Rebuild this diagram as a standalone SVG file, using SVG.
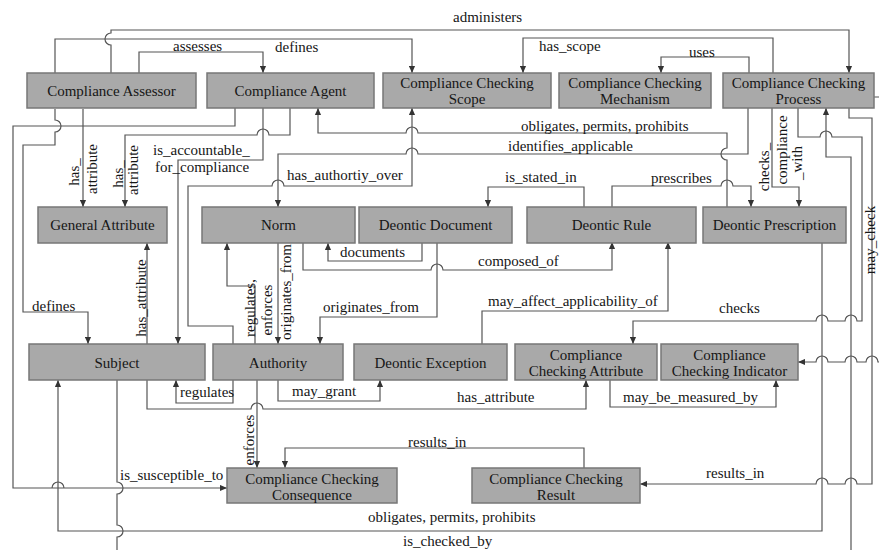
<svg xmlns="http://www.w3.org/2000/svg" width="879" height="550" viewBox="0 0 879 550">
<style>
.n rect{fill:#a9a9a9;stroke:#777;stroke-width:1.5}
.n text,.l{font-family:"Liberation Serif","Times New Roman",serif;font-size:15px;fill:#161616}
.n text{text-anchor:middle}
.c path{fill:none;stroke:#555;stroke-width:1.2}
.r{text-anchor:middle}
</style>
<defs>
<marker id="a" viewBox="0 0 8 8" refX="8" refY="4" markerWidth="7" markerHeight="7" markerUnits="userSpaceOnUse" orient="auto"><path d="M0,0.5 L8,4 L0,7.5 z" fill="#333"/></marker>
</defs>
<rect width="879" height="550" fill="#fff"/>
<g class="c">
<path d="M111 73 V45 a6 6 0 0 1 0 -12 V30 H849 V73" marker-end="url(#a)"/>
<path d="M55 73 V39 H412 V73" marker-end="url(#a)"/>
<path d="M139 73 V52 H263 V73" marker-end="url(#a)"/>
<path d="M773 73 V38 H523 V73" marker-end="url(#a)"/>
<path d="M749 73 V57 H661 V73" marker-end="url(#a)"/>
<path d="M727 207 V160 a6 6 0 0 1 0 -12 V133 H418 a6 6 0 0 0 -12 0 H318 V108" marker-end="url(#a)"/>
<path d="M748 108 V154 H418 a6 6 0 0 0 -12 0 H278 V207" marker-end="url(#a)"/>
<path d="M233 344 V326 H188 V186 H272 a6 6 0 0 1 12 0 H412 V108" marker-end="url(#a)"/>
<path d="M235 108 V126 H13 V488 H64 a6 6 0 0 0 -12 0 H227" marker-end="url(#a)"/>
<path d="M55 109 V120 a6 6 0 0 1 0 12 V145 H23 V312 H88 V344" marker-end="url(#a)"/>
<path d="M83 109 V207" marker-end="url(#a)"/>
<path d="M290 108 V135 H269 a6 6 0 0 0 -12 0 H125 V207" marker-end="url(#a)"/>
<path d="M263 108 V160 H178 V344" marker-end="url(#a)"/>
<path d="M147 344 V243" marker-end="url(#a)"/>
<path d="M255 344 V286 H227 V243" marker-end="url(#a)"/>
<path d="M278 243 V344" marker-end="url(#a)"/>
<path d="M422 243 V261 H328 V243" marker-end="url(#a)"/>
<path d="M303 243 V270 H431 a6 6 0 0 1 12 0 H612 V242" marker-end="url(#a)"/>
<path d="M437 243 V317 H320 V344" marker-end="url(#a)"/>
<path d="M584 207 V187 H488 V207" marker-end="url(#a)"/>
<path d="M612 207 V186 H721 a6 6 0 0 1 12 0 H751 V207" marker-end="url(#a)"/>
<path d="M772 108 V187 H799 V207" marker-end="url(#a)"/>
<path d="M798 108 V137 H820 a6 6 0 0 1 12 0 H862 V321 H857 a6 6 0 0 0 -12 0 H828 a6 6 0 0 0 -12 0 H633 V344" marker-end="url(#a)"/>
<path d="M117 380 V482 a6 6 0 0 1 0 12 V525 a6 6 0 0 1 0 12 V553 H851 V157 H826 V108" marker-end="url(#a)"/>
<path d="M822 242 V531 H58 V380" marker-end="url(#a)"/>
<path d="M233 380 V403 H176 V380" marker-end="url(#a)"/>
<path d="M147 380 V409 H251 a6 6 0 0 1 12 0 H586 V380" marker-end="url(#a)"/>
<path d="M278 380 V401 H380 V380" marker-end="url(#a)"/>
<path d="M257 380 V468" marker-end="url(#a)"/>
<path d="M482 344 V311 H668 V242" marker-end="url(#a)"/>
<path d="M610 380 V407 H776 V380" marker-end="url(#a)"/>
<path d="M584 468 V448 H285 V468" marker-end="url(#a)"/>
<path d="M849 108 V118 H872 V484 H857 a6 6 0 0 0 -12 0 H828 a6 6 0 0 0 -12 0 H640" marker-end="url(#a)"/>
<path d="M874 97 H882 M882 362 H878 a6 6 0 0 0 -12 0 H857 a6 6 0 0 0 -12 0 H828 a6 6 0 0 0 -12 0 H798" marker-end="url(#a)"/>
</g>
<g id="n-assessor" class="n"><rect x="27" y="73" width="169" height="35"/><text x="111.5" y="96">Compliance Assessor</text></g>
<g id="n-agent" class="n"><rect x="207" y="73" width="167" height="35"/><text x="290.5" y="96">Compliance Agent</text></g>
<g id="n-scope" class="n"><rect x="383" y="73" width="168" height="35"/><text x="467" y="88">Compliance Checking</text><text x="467" y="104">Scope</text></g>
<g id="n-mechanism" class="n"><rect x="559" y="73" width="152" height="35"/><text x="635" y="88">Compliance Checking</text><text x="635" y="104">Mechanism</text></g>
<g id="n-process" class="n"><rect x="723" y="73" width="151" height="35"/><text x="798.5" y="88">Compliance Checking</text><text x="798.5" y="104">Process</text></g>
<g id="n-general" class="n"><rect x="38" y="207" width="129" height="36"/><text x="102.5" y="230">General Attribute</text></g>
<g id="n-norm" class="n"><rect x="202" y="207" width="153" height="36"/><text x="278.5" y="230">Norm</text></g>
<g id="n-document" class="n"><rect x="359" y="207" width="153" height="36"/><text x="435.5" y="230">Deontic Document</text></g>
<g id="n-rule" class="n"><rect x="527" y="207" width="169" height="36"/><text x="611.5" y="230">Deontic Rule</text></g>
<g id="n-prescription" class="n"><rect x="703" y="207" width="143" height="36"/><text x="774.5" y="230">Deontic Prescription</text></g>
<g id="n-subject" class="n"><rect x="29" y="344" width="176" height="36"/><text x="117" y="368">Subject</text></g>
<g id="n-authority" class="n"><rect x="213" y="344" width="130" height="36"/><text x="278" y="368">Authority</text></g>
<g id="n-exception" class="n"><rect x="354" y="344" width="153" height="36"/><text x="430.5" y="368">Deontic Exception</text></g>
<g id="n-ccattr" class="n"><rect x="515" y="344" width="142" height="36"/><text x="586" y="360">Compliance</text><text x="586" y="376">Checking Attribute</text></g>
<g id="n-indicator" class="n"><rect x="661" y="344" width="137" height="36"/><text x="729.5" y="360">Compliance</text><text x="729.5" y="376">Checking Indicator</text></g>
<g id="n-consequence" class="n"><rect x="227" y="468" width="170" height="35"/><text x="312" y="484">Compliance Checking</text><text x="312" y="500">Consequence</text></g>
<g id="n-result" class="n"><rect x="472" y="468" width="168" height="35"/><text x="556" y="484">Compliance Checking</text><text x="556" y="500">Result</text></g>
<g id="labels">
<text class="l" x="453" y="22">administers</text>
<text class="l" x="173" y="51">assesses</text>
<text class="l" x="275" y="52">defines</text>
<text class="l" x="539" y="51">has_scope</text>
<text class="l" x="689" y="57">uses</text>
<text class="l" x="521" y="131">obligates, permits, prohibits</text>
<text class="l" x="508" y="151">identifies_applicable</text>
<text class="l" x="153" y="155">is_accountable_</text>
<text class="l" x="155" y="172">for_compliance</text>
<text class="l" x="287" y="180">has_authortiy_over</text>
<text class="l" x="505" y="182">is_stated_in</text>
<text class="l" x="651" y="183">prescribes</text>
<text class="l r" transform="translate(79,172) rotate(-90)">has_</text>
<text class="l r" transform="translate(97,169) rotate(-90)">attribute</text>
<text class="l r" transform="translate(123,174) rotate(-90)">has_</text>
<text class="l r" transform="translate(138,170) rotate(-90)">attribute</text>
<text class="l r" transform="translate(769,167) rotate(-90)">checks_</text>
<text class="l r" transform="translate(787,150) rotate(-90)">compliance</text>
<text class="l r" transform="translate(802,163) rotate(-90)">_with</text>
<text class="l r" transform="translate(146,298) rotate(-90)">has_attribute</text>
<text class="l r" transform="translate(255,308) rotate(-90)">regulates,</text>
<text class="l r" transform="translate(272,310) rotate(-90)">enforces</text>
<text class="l r" transform="translate(291,292) rotate(-90)">originates_from</text>
<text class="l r" transform="translate(254,440) rotate(-90)">enforces</text>
<text class="l r" transform="translate(875,240) rotate(-90)">may_check</text>
<text class="l" x="32" y="311">defines</text>
<text class="l" x="340" y="257">documents</text>
<text class="l" x="478" y="266">composed_of</text>
<text class="l" x="323" y="312">originates_from</text>
<text class="l" x="488" y="306">may_affect_applicability_of</text>
<text class="l" x="719" y="313">checks</text>
<text class="l" x="180" y="397">regulates</text>
<text class="l" x="292" y="396">may_grant</text>
<text class="l" x="457" y="402">has_attribute</text>
<text class="l" x="623" y="402">may_be_measured_by</text>
<text class="l" x="408" y="447">results_in</text>
<text class="l" x="120" y="480">is_susceptible_to</text>
<text class="l" x="706" y="478">results_in</text>
<text class="l" x="368" y="522">obligates, permits, prohibits</text>
<text class="l" x="403" y="546">is_checked_by</text>
</g>
</svg>
